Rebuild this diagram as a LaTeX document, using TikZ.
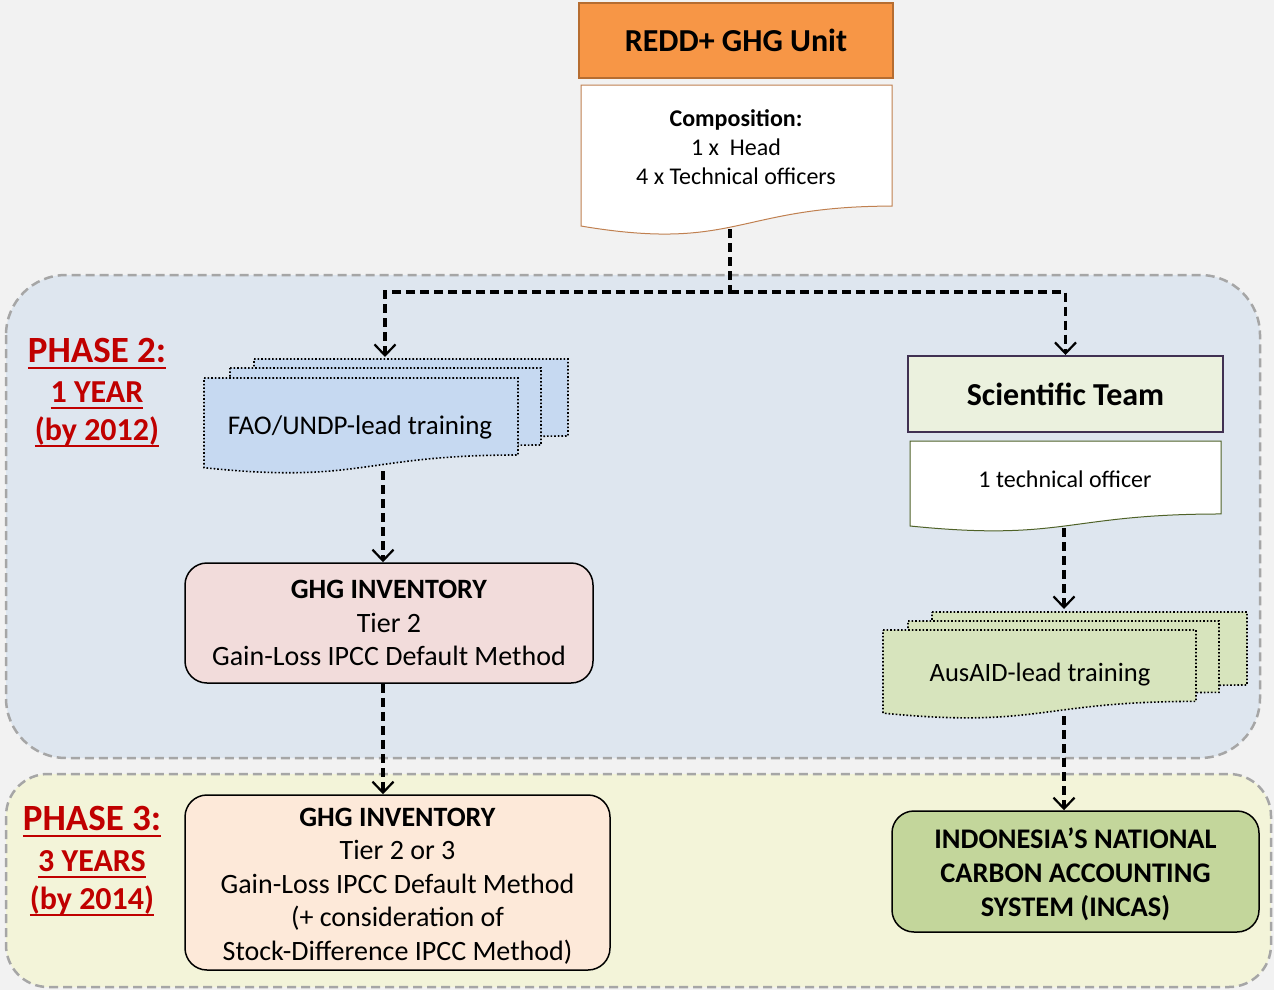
\documentclass[tikz,border=0pt]{standalone}
\usepackage{fontspec}
\setmainfont{Carlito}
\usetikzlibrary{arrows.meta}

\definecolor{bggray}{HTML}{F2F2F2}
\definecolor{ptwofill}{HTML}{DEE6EF}
\definecolor{pthreefill}{HTML}{F3F4D9}
\definecolor{panelgray}{HTML}{A6A6A6}
\definecolor{unitfill}{HTML}{F79646}
\definecolor{unitbord}{HTML}{B66D31}
\definecolor{compbord}{HTML}{C08050}
\definecolor{faofill}{HTML}{C6D9F1}
\definecolor{ausfill}{HTML}{D7E4BD}
\definecolor{ghgtwo}{HTML}{F2DCDB}
\definecolor{ghgthree}{HTML}{FDE9D9}
\definecolor{scifill}{HTML}{EBF1DE}
\definecolor{scibord}{HTML}{403152}
\definecolor{techbord}{HTML}{4F6228}
\definecolor{incasfill}{HTML}{C3D69B}
\definecolor{phasered}{HTML}{C00000}

% document shape: x1, y1, x2, height
\newcommand{\docpath}[4]{(#1,#2) -- (#3,#2) -- (#3,{#2+0.802*#4}) .. controls ({(#1+#3)/2},{#2+0.802*#4}) and ({(#1+#3)/2},{#2+1.107*#4}) .. (#1,{#2+0.934*#4}) -- cycle}
% thick underline
\newcommand{\thickul}[1]{\setbox0=\hbox{#1}\makebox[0pt][l]{\rule[-7pt]{\wd0}{2.4pt}}\box0}

\begin{document}
\begin{tikzpicture}[x=1pt,y=1pt,yscale=-1,
  flow/.style={line width=3.2pt, dash pattern=on 9pt off 5pt, -{Straight Barb[length=11pt,width=21pt,line width=2.2pt]}},
  panel/.style={draw=panelgray, line width=2.5pt, dash pattern=on 9pt off 5pt},
  inv/.style={draw, line width=1.5pt, rounded corners=22pt, align=center},
  stackdoc/.style={draw, dotted, line width=1.6pt},
  phase/.style={text=phasered, anchor=base, inner sep=0pt}]
\path[use as bounding box, fill=bggray] (0,0) rectangle (1274,990);

%Shape: phase panels
\draw[panel, fill=ptwofill, rounded corners=60pt] (6,275) rectangle (1260,758);
\draw[panel, fill=pthreefill, rounded corners=42pt] (6,774) rectangle (1271,987);

%Shape: REDD+ unit and composition
\node[draw=unitbord, fill=unitfill, line width=1.5pt, minimum width=314pt, minimum height=75pt, font=\bfseries\fontsize{32}{38}\selectfont] (unit) at (736,40.5) {REDD+ GHG Unit};
\draw[draw=compbord, fill=white, line width=1pt] \docpath{581}{85}{892}{151};
\node[align=center, font=\fontsize{24}{29}\selectfont] (comptext) at (736,147) {\textbf{Composition:}\\1 x~ Head\\4 x Technical officers};
\coordinate (comp) at (730,229);
\coordinate (split) at (730,292);

%Shape: FAO/UNDP training stack
\foreach \xa/\ya/\xb in {254/359/568, 230/368/541, 204/378/518}
  \draw[stackdoc, fill=faofill] \docpath{\xa}{\ya}{\xb}{96};
\node[font=\fontsize{27}{32}\selectfont] (fao) at (360,427) {FAO/UNDP-lead training};
\coordinate (faotop) at (385,357);
\coordinate (faobot) at (383,471);

%Shape: GHG inventories
\node[inv, fill=ghgtwo, minimum width=408pt, minimum height=120pt, font=\fontsize{28}{33.5}\selectfont] (ghg2) at (389,623) {\textbf{GHG INVENTORY}\\Tier 2\\Gain-Loss IPCC Default Method};
\node[inv, fill=ghgthree, minimum width=425pt, minimum height=175pt, font=\fontsize{28}{33.5}\selectfont] (ghg3) at (397.5,882.5) {};
\node[align=center, font=\fontsize{28}{33.5}\selectfont] (ghg3text) at (397.5,886) {\textbf{GHG INVENTORY}\\Tier 2 or 3\\Gain-Loss IPCC Default Method\\(+ consideration of\\Stock-Difference IPCC Method)};

%Shape: scientific team
\node[draw=scibord, fill=scifill, line width=2pt, minimum width=315pt, minimum height=76pt, font=\bfseries\fontsize{32}{38}\selectfont] (sci) at (1065.5,394) {Scientific Team};
\draw[draw=techbord, fill=white, line width=1pt] \docpath{910}{441}{1221}{91};
\node[font=\fontsize{24}{29}\selectfont] (tech) at (1065,479) {1 technical officer};
\coordinate (techbot) at (1064,528);

%Shape: AusAID training stack
\foreach \xa/\ya/\xb/\hh in {932/612/1247/91, 908/621/1219/89, 883/630/1196/89}
  \draw[stackdoc, fill=ausfill] \docpath{\xa}{\ya}{\xb}{\hh};
\node[font=\fontsize{26.5}{32}\selectfont] (aus) at (1040,675) {AusAID-lead training};
\coordinate (austop) at (1064,609);
\coordinate (ausbot) at (1064,716);

%Shape: INCAS
\node[inv, fill=incasfill, minimum width=367pt, minimum height=121pt] (incas) at (1075.5,871.5) {};
\node[align=center, font=\bfseries\fontsize{28.4}{34}\selectfont] (incastext) at (1075.5,874) {INDONESIA’S NATIONAL\\CARBON ACCOUNTING\\SYSTEM (INCAS)};

% Connectors
\draw[flow] (comp) -- (split) -| (faotop);
\draw[flow] (split) -| (sci.north);
\draw[flow] (faobot) -- (faobot |- ghg2.north);
\draw[flow] (ghg2.south -| faobot) -- (faobot |- ghg3.north);
\draw[flow] (techbot) -- (austop);
\draw[flow] (ausbot) -- (ausbot |- incas.north);

% Text Node
\node[phase, font=\bfseries\fontsize{37}{44}\selectfont] (ptwo) at (97,362) {\thickul{PHASE 2:}};
\node[phase, font=\bfseries\fontsize{32}{38}\selectfont] (ptwoyr) at (97,402) {\thickul{1 YEAR}};
\node[phase, font=\bfseries\fontsize{32}{38}\selectfont] (ptwoby) at (97,440) {\thickul{(by 2012)}};
% Text Node
\node[phase, font=\bfseries\fontsize{37}{44}\selectfont] (pthree) at (92,830) {\thickul{PHASE 3:}};
\node[phase, font=\bfseries\fontsize{32}{38}\selectfont] (pthreeyr) at (92,871) {\thickul{3 YEARS}};
\node[phase, font=\bfseries\fontsize{32}{38}\selectfont] (pthreeby) at (92,909) {\thickul{(by 2014)}};

\end{tikzpicture}
\end{document}
